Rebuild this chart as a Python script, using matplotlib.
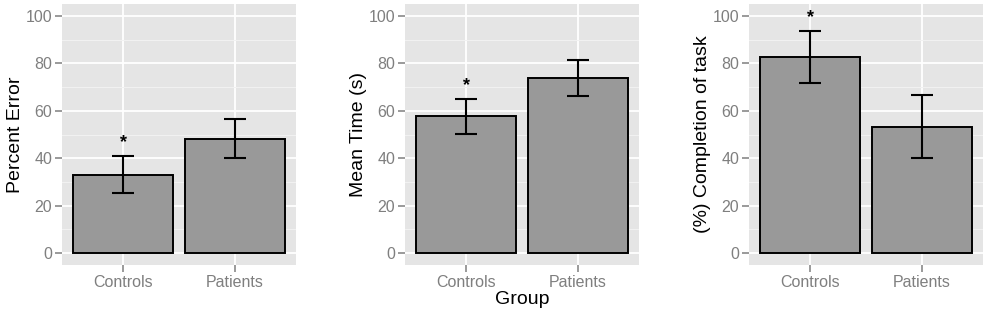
import matplotlib
matplotlib.use('Agg')
import matplotlib.pyplot as plt
import numpy as np

plt.rcParams['font.family'] = ['Liberation Sans', 'DejaVu Sans']

groups = ['Controls', 'Patients']

error_mean = [33.1, 48.3]
error_low = [25.2, 40.1]
error_high = [41.0, 56.4]

time_mean = [57.6, 73.8]
time_low = [50.1, 66.2]
time_high = [65.1, 81.2]

completion_mean = [82.6, 53.3]
completion_low = [71.8, 40.0]
completion_high = [93.7, 66.8]

# significance marks drawn above the Controls bar only
stars = ['*', '']

panels = [
    ('Percent Error', error_mean, error_low, error_high),
    ('Mean Time (s)', time_mean, time_low, time_high),
    ('(%) Completion of task', completion_mean, completion_low, completion_high),
]

fig = plt.figure(figsize=(9.88, 3.16), dpi=100)
lefts = [62 / 988, 405 / 988, 749 / 988]
bottom = 1 - 265 / 316
height = (265 - 4) / 316
width = 234 / 988

for i, (ylabel, mean, low, high) in enumerate(panels):
    ax = fig.add_axes([lefts[i], bottom, width, height])
    ax.set_facecolor('#E5E5E5')
    for s in ax.spines.values():
        s.set_visible(False)

    x = np.arange(1, len(groups) + 1)
    mean = np.array(mean)
    yerr = [mean - np.array(low), np.array(high) - mean]

    ax.set_yticks([0, 20, 40, 60, 80, 100])
    ax.set_yticks([10, 30, 50, 70, 90], minor=True)
    ax.set_xticks(x)
    ax.set_xticklabels(groups)
    ax.grid(which='major', color='white', linewidth=1.3)
    ax.grid(which='minor', axis='y', color='#F2F2F2', linewidth=0.7)
    ax.set_axisbelow(True)

    ax.bar(x, mean, width=0.9, color='#999999', edgecolor='black',
           linewidth=1.4, zorder=2)
    ax.errorbar(x, mean, yerr=yerr, fmt='none', ecolor='black',
                elinewidth=1.5, capsize=0, zorder=3)
    for xi, lo, hi in zip(x, low, high):
        ax.hlines([lo, hi], xi - 0.1, xi + 0.1, color='black',
                  linewidth=1.5, zorder=3)

    for xi, hi, st in zip(x, high, stars):
        if st:
            ax.text(xi, hi + 5.5, st, ha='center', va='center',
                    fontsize=13, fontweight='bold', color='black')

    ax.set_xlim(0.45, 2.55)
    ax.set_ylim(-5, 105)
    ax.tick_params(which='major', length=5, width=1.1, color='#7F7F7F',
                   labelcolor='#7F7F7F', labelsize=11.5, pad=2)
    ax.tick_params(which='minor', length=0)
    ax.set_ylabel(ylabel, fontsize=14, color='black', labelpad=1)
    if i == 1:
        ax.set_xlabel('Group', fontsize=14, color='black', labelpad=1)

fig.savefig('out.png', dpi=100)
